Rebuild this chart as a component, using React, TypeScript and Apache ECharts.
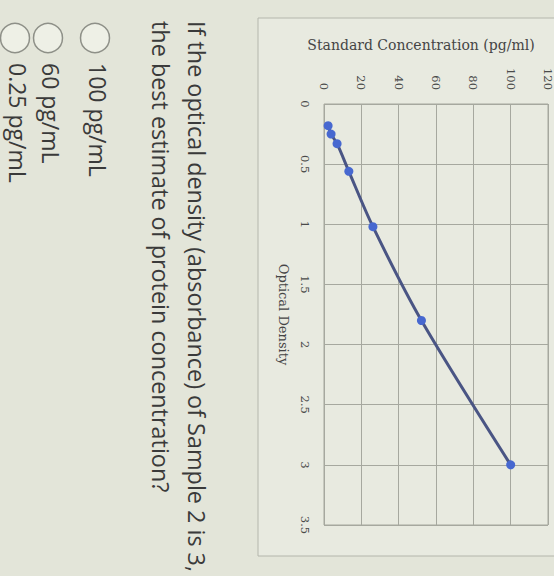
import React, { useEffect, useRef } from "react";
import * as echarts from "echarts";

const opticalDensity = [0.18, 0.25, 0.33, 0.56, 1.02, 1.8, 3.0];
const concentration = [2.2, 3.8, 7.0, 13.3, 26.2, 52.2, 100];
const xAxisTitle = "Standard Concentration (pg/ml)";
const yAxisTitle = "Optical Density";
const questionLines = [
  "If the optical density (absorbance) of Sample 2 is 3,",
  "the best estimate of protein concentration?",
];
const answerOptions = ["100 pg/mL", "60 pg/mL", "0.25 pg/mL"];

export default function App() {
  const ref = useRef<HTMLDivElement>(null);
  useEffect(() => {
    if (!ref.current) return;
    const chart = echarts.init(ref.current, undefined, { renderer: "svg" });
    const gridColor = "#a6a89f";
    const textColor = "#3a3a3a";
    const rot = -Math.PI / 2;
    const graphics: any[] = [
      {
        type: "rect",
        z: -10,
        shape: { x: 258, y: 18, width: 320, height: 538 },
        style: { fill: "#e8eae0", stroke: "#b4b6ac", lineWidth: 1 },
      },
    ];
    const qx = [197, 161];
    questionLines.forEach((t, i) => {
      graphics.push({
        type: "text",
        x: qx[i],
        y: 21,
        rotation: rot,
        style: {
          text: t,
          fill: textColor,
          font: '23.4px "Open Sans"',
          textAlign: "left",
          textVerticalAlign: "middle",
        },
      });
    });
    const ox = [98, 51, 18];
    answerOptions.forEach((t, i) => {
      graphics.push({
        type: "circle",
        shape: { cx: ox[i] - 3, cy: 38, r: 14.5 },
        style: { fill: "#eef0e6", stroke: "#8e9088", lineWidth: 1.5 },
      });
      graphics.push({
        type: "text",
        x: ox[i],
        y: 63,
        rotation: rot,
        style: {
          text: t,
          fill: textColor,
          font: '23px "Open Sans"',
          textAlign: "left",
          textVerticalAlign: "middle",
        },
      });
    });
    chart.setOption({
      animation: false,
      backgroundColor: "#e3e5d9",
      grid: {
        left: 324,
        top: 104,
        right: 2,
        bottom: 51,
        show: true,
        borderColor: gridColor,
        borderWidth: 1,
        backgroundColor: "transparent",
      },
      xAxis: {
        type: "value",
        position: "top",
        min: 0,
        max: 120,
        interval: 20,
        axisLine: { show: false },
        axisTick: { show: false },
        axisLabel: {
          rotate: -90,
          margin: 14,
          fontFamily: "DejaVu Serif",
          fontSize: 11.5,
          color: "#4a4a4a",
        },
        splitLine: { lineStyle: { color: gridColor, width: 1 } },
        name: xAxisTitle,
        nameLocation: "middle",
        nameGap: 52,
        nameTextStyle: {
          fontFamily: "DejaVu Serif",
          fontSize: 14,
          color: "#454545",
          padding: [0, 30, 0, 0],
        },
      },
      yAxis: {
        type: "value",
        inverse: true,
        min: 0,
        max: 3.5,
        interval: 0.5,
        axisLine: { show: false },
        axisTick: { show: false },
        axisLabel: {
          rotate: -90,
          margin: 13,
          fontFamily: "DejaVu Serif",
          fontSize: 11.5,
          color: "#4a4a4a",
        },
        splitLine: { lineStyle: { color: gridColor, width: 1 } },
        name: yAxisTitle,
        nameLocation: "middle",
        nameGap: 34,
        nameRotate: -90,
        nameTextStyle: {
          fontFamily: "DejaVu Serif",
          fontSize: 13,
          color: "#454545",
        },
      },
      series: [
        {
          type: "line",
          data: concentration.map((c, i) => [c, opticalDensity[i]]),
          smooth: 0.3,
          symbol: "circle",
          symbolSize: 9,
          lineStyle: { color: "#4a5584", width: 3 },
          itemStyle: { color: "#4768d0" },
        },
      ],
      graphic: graphics,
    });
    return () => chart.dispose();
  }, []);
  return (
    <div
      ref={ref}
      style={{ position: "fixed", left: 0, top: 0, width: 554, height: 576 }}
    />
  );
}
